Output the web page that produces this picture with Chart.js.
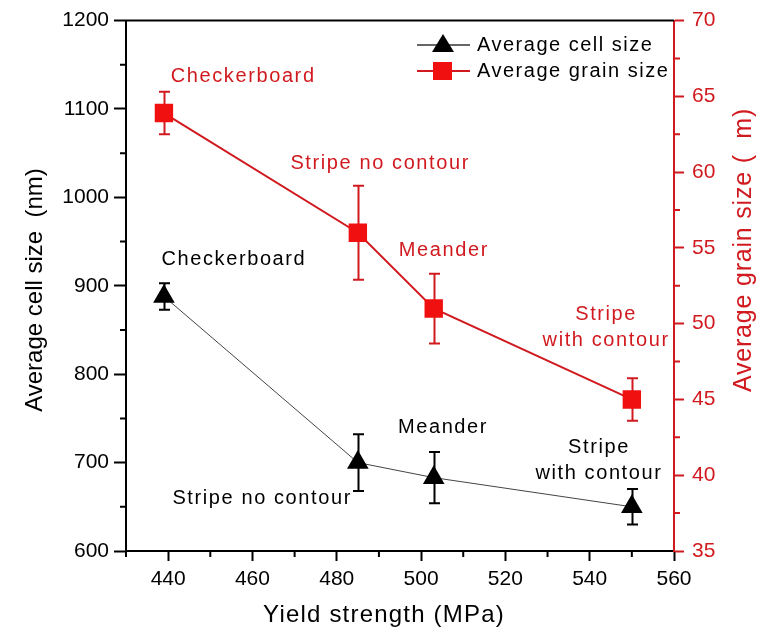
<!DOCTYPE html>
<html>
<head>
<meta charset="utf-8">
<script src="https://cdn.jsdelivr.net/npm/chart.js@4.4.1/dist/chart.umd.min.js"></script>
<style>
  html, body { margin: 0; padding: 0; background: #ffffff; }
  #wrap { width: 761px; height: 636px; }
</style>
</head>
<body>
<div id="wrap"><canvas id="c" width="761" height="636"></canvas></div>
<script>
// Yield strength (MPa) for each scan strategy
const yieldStrength = [439, 485, 503, 550];
const strategies = ['Checkerboard', 'Stripe no contour', 'Meander', 'Stripe\nwith contour'];

// Average cell size (nm) and its error
const cellSize = [888, 700, 683, 650];
const cellErr = [15, 32, 29, 20];

// Average grain size (um) and its error
const grainSize = [63.9, 56, 51, 45];
const grainErr = [1.4, 3.1, 2.3, 1.4];

// Tick values for each axis
const xTicks = [440, 460, 480, 500, 520, 540, 560];
const cellTicks = [600, 700, 800, 900, 1000, 1100, 1200];
const grainTicks = [35, 40, 45, 50, 55, 60, 65, 70];

const RED = '#d11a1f';
const RED_FILL = '#f01010';
const FONT = '"Liberation Sans", Arial, sans-serif';

// Label placement for each strategy, in data units [x, y] on the matching axis
const cellLabelAt = [[455.6, 929.8], [462.3, 659.6], [505.2, 739.6], [542.2, 701.9]];
const grainLabelAt = [[457.8, 66.3], [490.3, 60.55], [505.4, 54.83], [543.9, 49.74]];

function errorBars(chart, dsIndex, errs, color) {
  const ctx = chart.ctx;
  const meta = chart.getDatasetMeta(dsIndex);
  const yScale = chart.scales[meta.yAxisID];
  const vals = chart.data.datasets[dsIndex].data;
  ctx.save();
  ctx.strokeStyle = color;
  ctx.lineWidth = 2;
  meta.data.forEach((pt, i) => {
    const v = vals[i].y;
    const yTop = yScale.getPixelForValue(v + errs[i]);
    const yBot = yScale.getPixelForValue(v - errs[i]);
    const x = Math.round(pt.x) + 0.5;
    ctx.beginPath();
    ctx.moveTo(x, yTop); ctx.lineTo(x, yBot);
    ctx.moveTo(x - 5.5, yTop); ctx.lineTo(x + 5.5, yTop);
    ctx.moveTo(x - 5.5, yBot); ctx.lineTo(x + 5.5, yBot);
    ctx.stroke();
  });
  ctx.restore();
}

function minorTicks(ctx, scale, values, color, len, horizontal, side) {
  ctx.save();
  ctx.strokeStyle = color;
  ctx.lineWidth = 2;
  ctx.beginPath();
  values.forEach(v => {
    const p = scale.getPixelForValue(v);
    if (horizontal) {
      ctx.moveTo(p, scale.top); ctx.lineTo(p, scale.top + len);
    } else if (side === 'left') {
      ctx.moveTo(scale.right, p); ctx.lineTo(scale.right - len, p);
    } else {
      ctx.moveTo(scale.left, p); ctx.lineTo(scale.left + len, p);
    }
  });
  ctx.stroke();
  ctx.restore();
}

function spacedText(ctx, text, x, y, spacing) {
  ctx.letterSpacing = spacing + 'px';
  ctx.fillText(text, x, y);
  ctx.letterSpacing = '0px';
}

const decorations = {
  id: 'decorations',
  beforeDatasetsDraw(chart) {
    const ctx = chart.ctx;
    const { left, right, top } = chart.chartArea;
    const sx = chart.scales.x, sy = chart.scales.y, sy2 = chart.scales.y2;
    // frame top edge
    ctx.save();
    ctx.strokeStyle = '#000';
    ctx.lineWidth = 2;
    ctx.beginPath();
    ctx.moveTo(left - 1, top); ctx.lineTo(right, top);
    ctx.stroke();
    ctx.restore();
    // minor ticks
    minorTicks(ctx, sx, [430, 450, 470, 490, 510, 530, 550], '#000', 6, true);
    minorTicks(ctx, sy, [650, 750, 850, 950, 1050, 1150], '#000', 6, false, 'left');
    minorTicks(ctx, sy2, [37.5, 42.5, 47.5, 52.5, 57.5, 62.5, 67.5], RED, 6, false, 'right');
    // error bars
    errorBars(chart, 0, cellErr, '#000');
    errorBars(chart, 1, grainErr, RED);
  },
  afterDraw(chart) {
    const ctx = chart.ctx;
    const sx = chart.scales.x, sy = chart.scales.y, sy2 = chart.scales.y2;
    ctx.save();
    ctx.textAlign = 'center';
    ctx.textBaseline = 'middle';
    ctx.font = '20px ' + FONT;
    // strategy labels
    strategies.forEach((s, i) => {
      const lines = s.split('\n');
      ctx.fillStyle = '#000';
      let px = sx.getPixelForValue(cellLabelAt[i][0]);
      let py = sy.getPixelForValue(cellLabelAt[i][1]);
      lines.forEach((ln, k) => spacedText(ctx, ln, px, py + (k - (lines.length - 1) / 2) * 26, 1.6));
      ctx.fillStyle = RED;
      px = sx.getPixelForValue(grainLabelAt[i][0]);
      py = sy2.getPixelForValue(grainLabelAt[i][1]);
      lines.forEach((ln, k) => spacedText(ctx, ln, px, py + (k - (lines.length - 1) / 2) * 26, 1.6));
    });

    // legend
    const lx = 417, ly1 = 45, ly2 = 71;
    ctx.lineWidth = 1.5;
    ctx.strokeStyle = '#333';
    ctx.beginPath(); ctx.moveTo(lx, ly1); ctx.lineTo(lx + 53, ly1); ctx.stroke();
    ctx.fillStyle = '#000';
    ctx.beginPath();
    ctx.moveTo(lx + 26, ly1 - 11); ctx.lineTo(lx + 37, ly1 + 7); ctx.lineTo(lx + 15, ly1 + 7); ctx.closePath();
    ctx.fill();
    ctx.strokeStyle = RED; ctx.lineWidth = 2;
    ctx.beginPath(); ctx.moveTo(lx, ly2); ctx.lineTo(lx + 53, ly2); ctx.stroke();
    ctx.fillStyle = RED_FILL;
    ctx.fillRect(lx + 16, ly2 - 9, 19, 18);
    ctx.textAlign = 'left';
    ctx.fillStyle = '#000';
    spacedText(ctx, 'Average cell size', lx + 60, ly1, 1.5);
    spacedText(ctx, 'Average grain size', lx + 60, ly2, 1.5);

    // axis titles
    ctx.textAlign = 'center';
    ctx.fillStyle = '#000';
    ctx.font = '24px ' + FONT;
    spacedText(ctx, 'Yield strength (MPa)', 384, 615, 1.2);
    ctx.save();
    ctx.translate(35, 290);
    ctx.rotate(-Math.PI / 2);
    ctx.fillText('Average cell size  (nm)', 0, 0);
    ctx.restore();
    ctx.save();
    ctx.fillStyle = RED;
    ctx.font = '25px ' + FONT;
    ctx.translate(744, 250);
    ctx.rotate(-Math.PI / 2);
    spacedText(ctx, 'Average grain size (  m)', 0, 0, 0.8);
    ctx.restore();
    ctx.restore();
  }
};

const fixedTicks = vals => s => { s.ticks = vals.map(v => ({ value: v })); };
const plainLabel = v => String(v);

new Chart(document.getElementById('c'), {
  type: 'scatter',
  data: {
    datasets: [
      {
        label: 'Average cell size',
        data: yieldStrength.map((x, i) => ({ x, y: cellSize[i] })),
        yAxisID: 'y',
        showLine: true,
        borderColor: '#444',
        borderWidth: 1,
        pointStyle: 'triangle',
        pointRadius: 12.5,
        pointBackgroundColor: '#000',
        pointBorderColor: '#000',
        pointBorderWidth: 0
      },
      {
        label: 'Average grain size',
        data: yieldStrength.map((x, i) => ({ x, y: grainSize[i] })),
        yAxisID: 'y2',
        showLine: true,
        borderColor: RED,
        borderWidth: 2,
        pointStyle: 'rect',
        pointRadius: 13,
        pointBackgroundColor: RED_FILL,
        pointBorderColor: RED_FILL,
        pointBorderWidth: 0
      }
    ]
  },
  options: {
    responsive: false,
    animation: false,
    layout: { padding: { top: 18, left: 0, right: 0, bottom: 0 } },
    plugins: { legend: { display: false }, tooltip: { enabled: false } },
    scales: {
      x: {
        type: 'linear',
        min: 430, max: 560,
        afterBuildTicks: fixedTicks(xTicks),
        afterFit(s) { s.height = 85; },
        grid: { drawOnChartArea: false, tickLength: 10, tickColor: '#000', tickWidth: 2 },
        border: { color: '#000', width: 2 },
        ticks: { color: '#000', font: { family: FONT, size: 21 }, padding: 6, callback: plainLabel }
      },
      y: {
        position: 'left',
        min: 600, max: 1200,
        afterBuildTicks: fixedTicks(cellTicks),
        afterFit(s) { s.width = 126; },
        grid: { drawOnChartArea: false, tickLength: 12, tickColor: '#000', tickWidth: 2 },
        border: { color: '#000', width: 2 },
        ticks: { color: '#000', font: { family: FONT, size: 21 }, padding: 5, callback: plainLabel }
      },
      y2: {
        position: 'right',
        min: 35, max: 70,
        afterBuildTicks: fixedTicks(grainTicks),
        afterFit(s) { s.width = 87; },
        grid: { drawOnChartArea: false, tickLength: 10, tickColor: RED, tickWidth: 2 },
        border: { color: RED, width: 2 },
        ticks: { color: RED, font: { family: FONT, size: 21 }, padding: 8, callback: plainLabel }
      }
    }
  },
  plugins: [decorations]
});
</script>
</body>
</html>
